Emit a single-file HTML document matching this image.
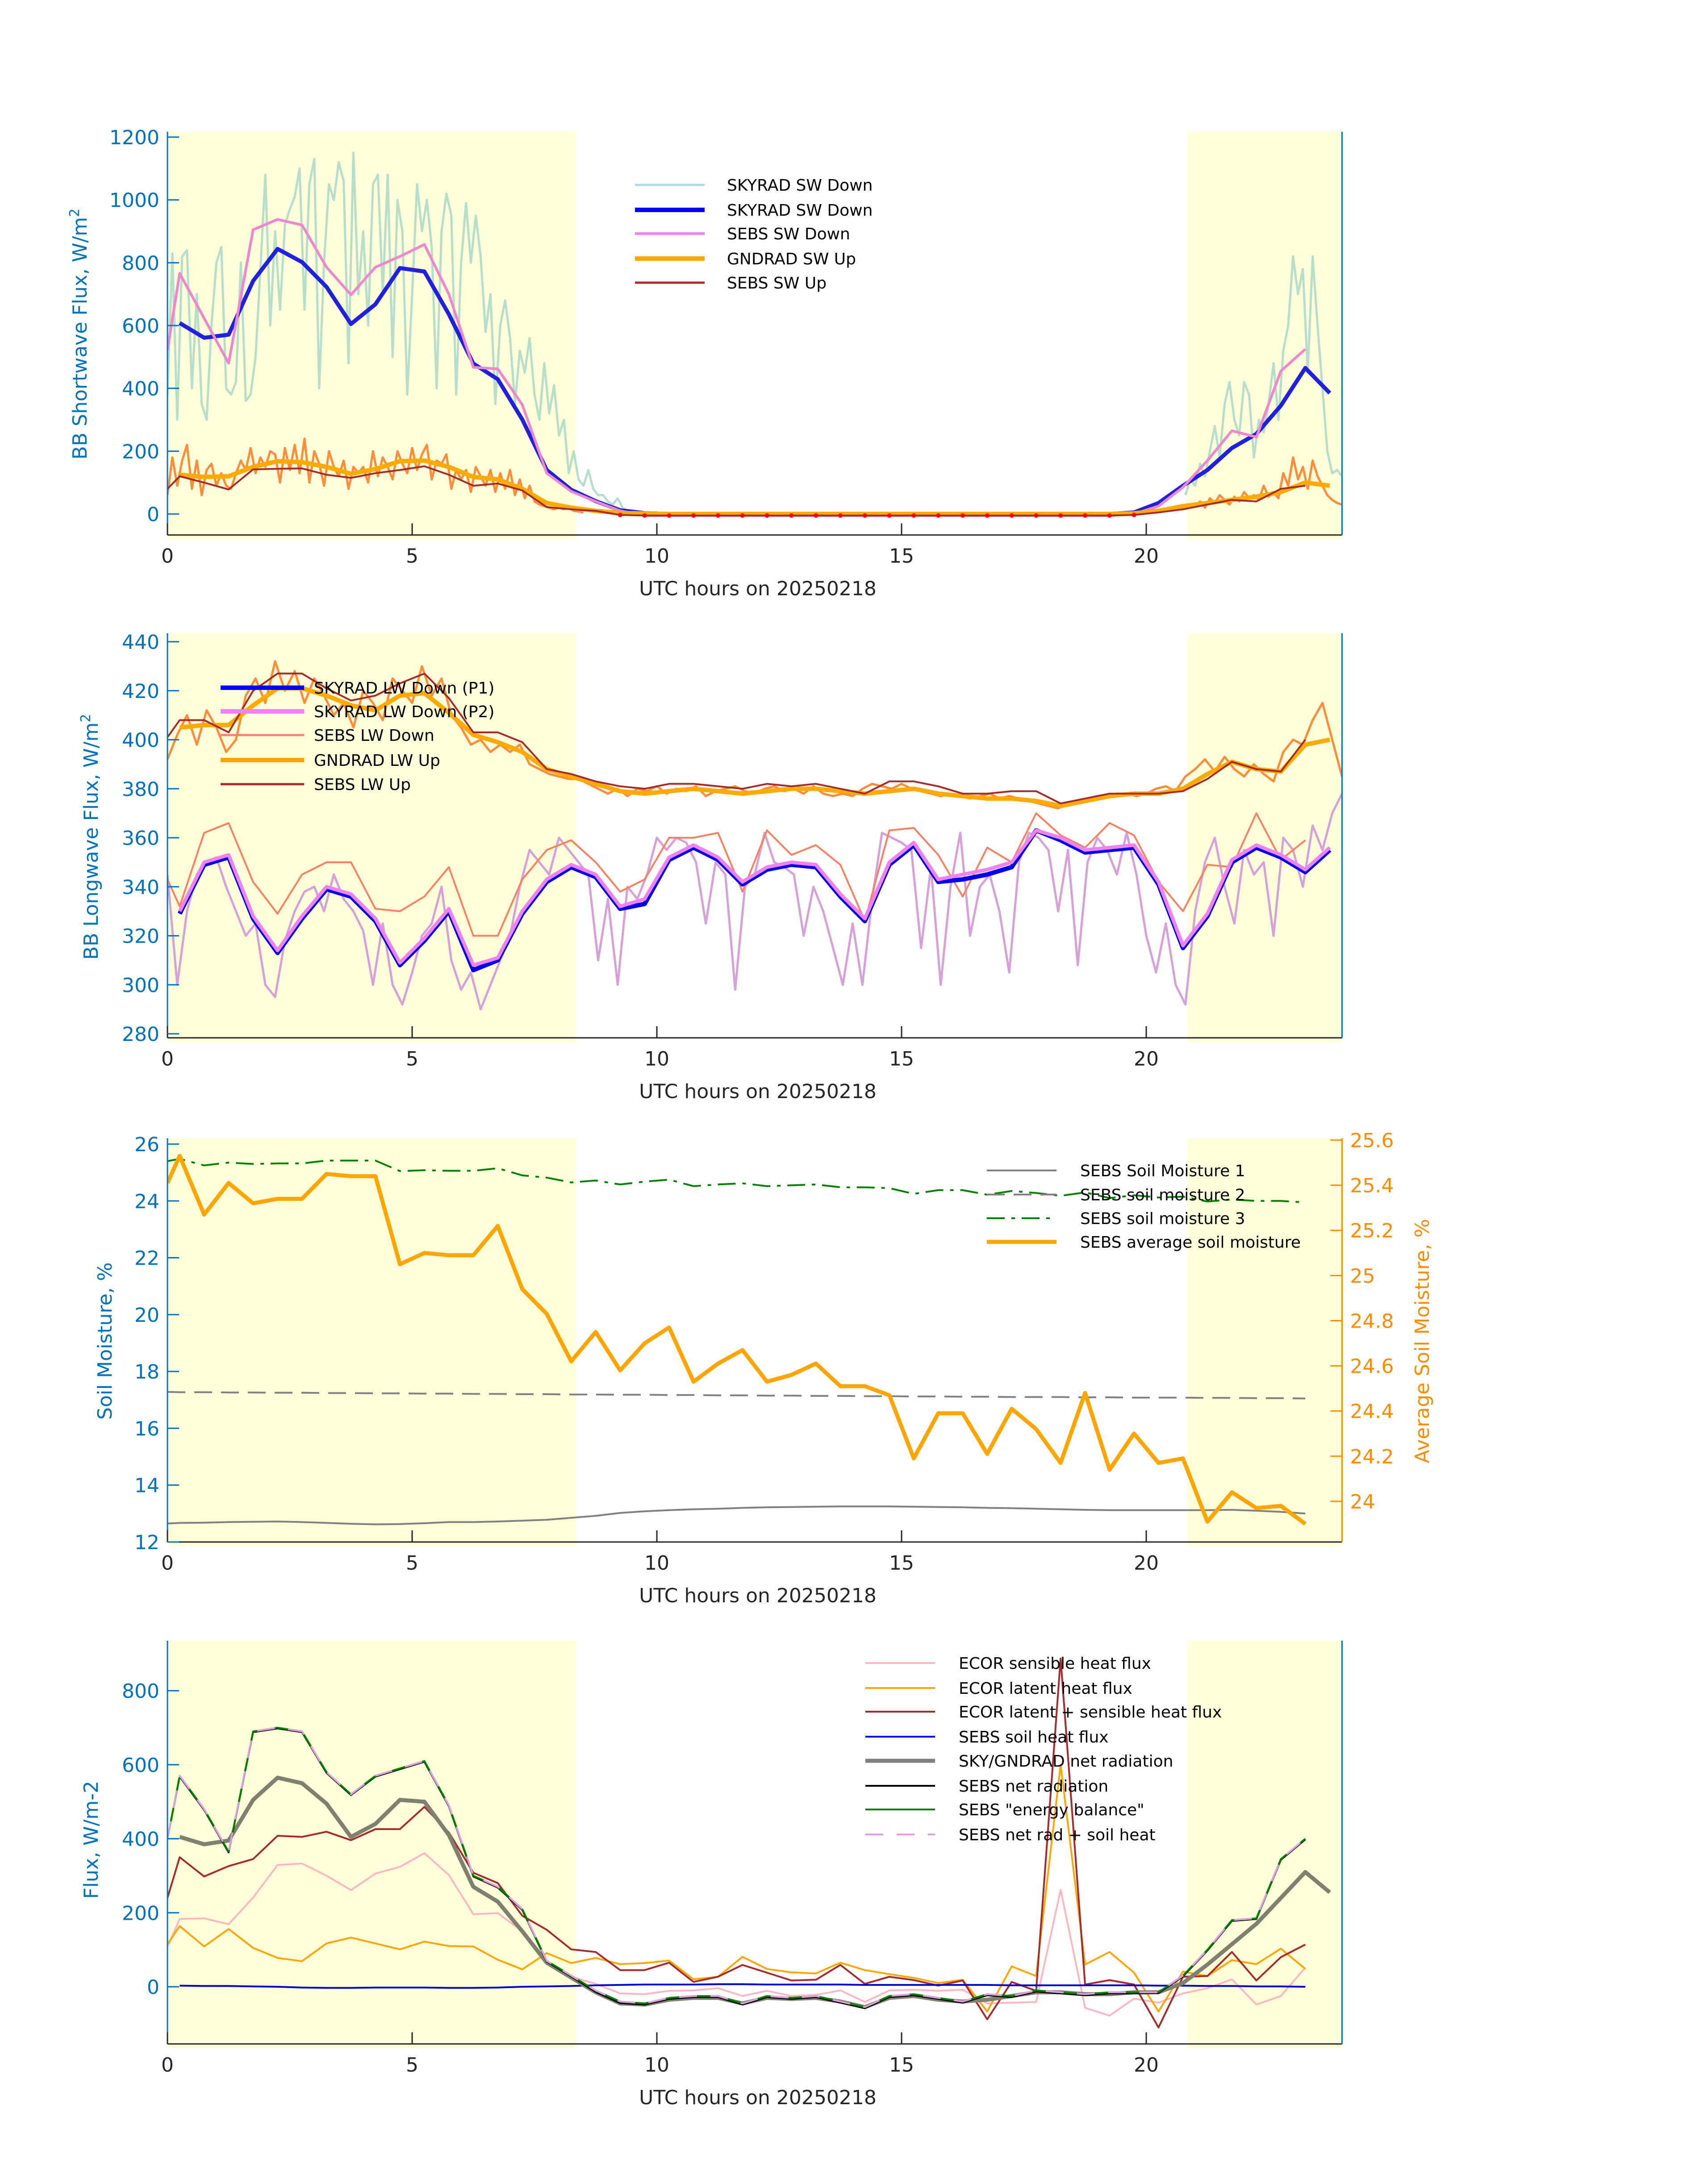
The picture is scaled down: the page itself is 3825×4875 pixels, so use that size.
<!DOCTYPE html>
<html><head><meta charset="utf-8"><title>SEBS / SKYRAD / ECOR 20250218</title>
<style>
html,body{margin:0;padding:0;background:#fff;}
svg{display:block;font-family:"DejaVu Sans","Liberation Sans",sans-serif;}
</style></head>
<body>
<svg id="fig" xmlns="http://www.w3.org/2000/svg" width="3825" height="4875" viewBox="0 0 3825 4875">
<rect width="3825" height="4875" fill="#ffffff"/>
</svg>
<script>
// ---------- DATA ----------
const swSkyradAvg = [608,561,571,742,844,802,723,605,668,783,772,636,479,429,301,140,77,41,12,3,0,0,0,0,0,0,0,0,0,0,0,0,0,0,0,0,0,0,0,5,35,90,140,210,255,345,465,385];
const swSebsDown0 = 522;
const swSebsDown = [766,623,480,905,938,920,786,698,786,820,858,700,467,462,348,130,72,40,10,-5,-5,-5,-5,-5,-5,-5,-5,-5,-5,-5,-5,-5,-5,-5,-5,-5,-5,-5,-5,0,25,85,170,265,245,455,525];
const swGndradUp = [125,118,120,150,168,165,150,128,143,168,170,150,118,110,80,35,20,10,3,2,0,0,0,0,0,0,0,0,0,0,0,0,0,0,0,0,0,0,0,2,10,25,35,45,55,70,100,90];
const swSebsUp0 = 80;
const swSebsUp = [120,100,78,142,144,145,125,115,130,140,152,125,90,97,75,22,15,10,-3,-5,-5,-5,-5,-5,-5,-5,-5,-5,-5,-5,-5,-5,-5,-5,-5,-5,-5,-5,-5,-3,5,15,30,45,40,80,90];
const swNoiseDay = [380,830,300,820,840,400,700,350,300,600,800,850,400,380,420,800,360,380,500,780,1080,600,900,650,920,970,1010,1100,650,1050,1130,400,800,1050,1000,1120,1060,480,1150,700,900,600,1050,1080,700,1080,500,1000,900,380,700,1050,900,1000,850,400,900,1020,950,380,800,990,800,950,820,580,700,350,600,680,560,350,520,450,560,380,300,480,320,410,250,300,130,200,110,90,140,80,60,60,40,30,50,20,10];
const swNoiseEve = [60,110,90,160,120,200,280,180,350,420,300,250,420,380,180,300,260,350,480,300,520,600,820,700,780,450,820,600,400,200,130,140,120];
const gndNoiseDay = [60,180,90,170,220,80,170,60,140,160,90,130,90,80,130,170,140,210,130,180,150,200,190,100,210,140,220,130,240,100,200,160,90,200,150,120,170,80,150,130,150,100,200,120,180,150,110,200,160,130,210,140,190,220,110,170,160,190,80,140,110,140,70,150,120,90,140,70,130,80,140,60,110,50,90,40,30,25,20,15,20,15,20,10,8,5];
const gndNoiseEve = [15,30,25,40,20,50,35,60,45,30,55,40,70,50,60,45,90,55,70,50,130,90,180,110,150,80,170,120,90,60,45,35,30];

const lwP1 = [329,349,352,327,313,327,339,336,326,308,318,330,306,310,329,342,348,344,331,333,351,356,351,341,347,349,348,336,326,349,357,342,343,345,348,363,359,354,355,356,341,315,328,350,356,352,346,355];
const lwP2 = [330,350,353,328,314,328,340,337,327,309,319,331,308,311,330,343,349,345,332,335,352,357,352,342,348,350,349,337,327,350,358,343,345,347,350,363,360,355,356,357,342,316,329,351,357,353,347,356];
const lwSebsDown0 = 343;
const lwSebsDown = [332,362,366,342,329,345,350,350,331,330,336,348,320,320,343,355,359,350,338,343,360,360,362,338,363,353,357,349,326,363,364,353,336,356,350,370,361,356,366,361,342,330,349,348,370,351,359];
const lwGndradUp = [405,406,406,414,421,421,418,414,412,418,419,411,402,399,395,388,385,382,379,378,379,380,379,378,379,380,380,379,378,379,380,378,377,376,376,375,373,375,377,378,378,380,386,391,388,387,398,400];
const lwSebsUp0 = 401;
const lwSebsUp = [408,408,403,420,427,427,421,416,418,423,427,417,403,403,399,388,386,383,381,380,382,382,381,380,382,381,382,380,378,383,383,381,378,378,379,379,374,376,378,378,378,379,384,391,388,387,400];
const lwNoiseDown = [345,300,330,345,350,352,340,330,320,325,300,295,318,330,338,340,330,345,335,330,322,300,325,300,292,305,320,325,340,310,298,305,290,300,310,320,340,355,350,345,360,355,350,345,310,335,300,340,335,345,360,355,360,358,350,325,350,345,298,340,345,362,350,348,345,320,340,330,315,300,325,300,335,362,360,358,355,315,348,300,340,362,320,340,345,330,305,350,362,360,355,330,355,308,350,360,355,345,362,345,320,305,325,300,292,330,350,360,340,325,355,345,350,320,360,355,340,365,355,370,378];
const lwNoiseUp = [392,402,410,398,412,405,395,400,418,425,415,432,420,428,415,425,418,410,415,405,420,415,408,425,420,415,430,418,425,410,405,398,400,395,398,395,398,390,388,386,385,384,384,382,380,378,380,377,380,379,381,378,380,379,381,377,379,380,381,379,378,380,381,379,380,378,381,378,377,378,377,380,382,381,380,382,380,379,378,377,378,377,376,377,378,376,377,376,375,374,373,372,374,375,376,377,377,378,378,377,378,380,381,379,385,388,392,387,393,388,385,390,386,383,395,400,398,408,415,400,385];

const smAvg = [25.41,25.53,25.27,25.41,25.32,25.34,25.34,25.45,25.44,25.44,25.05,25.10,25.09,25.09,25.22,24.94,24.83,24.62,24.75,24.58,24.70,24.77,24.53,24.61,24.67,24.53,24.56,24.61,24.51,24.51,24.47,24.19,24.39,24.39,24.21,24.41,24.32,24.17,24.48,24.14,24.30,24.17,24.19,23.91,24.04,23.97,23.98,23.90];
const sm3 = [25.40,25.48,25.25,25.35,25.30,25.32,25.32,25.42,25.42,25.42,25.05,25.08,25.06,25.06,25.15,24.90,24.82,24.65,24.72,24.58,24.68,24.75,24.52,24.58,24.62,24.52,24.55,24.58,24.48,24.48,24.45,24.25,24.38,24.38,24.22,24.35,24.28,24.18,24.30,24.10,24.20,24.12,24.15,23.98,24.05,24.00,24.00,23.95];
const sm2 = [17.28,17.27,17.27,17.26,17.26,17.25,17.25,17.24,17.24,17.23,17.23,17.22,17.22,17.21,17.21,17.20,17.20,17.19,17.19,17.18,17.18,17.17,17.17,17.16,17.16,17.15,17.15,17.14,17.14,17.13,17.13,17.12,17.12,17.11,17.11,17.10,17.10,17.10,17.09,17.09,17.08,17.08,17.08,17.07,17.07,17.06,17.06,17.05];
const sm1 = [12.65,12.67,12.68,12.70,12.71,12.72,12.70,12.67,12.64,12.62,12.63,12.66,12.70,12.70,12.72,12.75,12.78,12.85,12.92,13.02,13.08,13.12,13.15,13.17,13.20,13.22,13.23,13.24,13.25,13.25,13.25,13.24,13.23,13.22,13.20,13.19,13.17,13.15,13.13,13.12,13.12,13.12,13.12,13.12,13.13,13.10,13.06,13.00];

const ecorSens = [108,183,185,169,241,329,333,300,261,306,324,361,302,196,199,150,66,27,8,-18,-20,-11,-10,-4,-25,-11,-25,-22,-10,-41,-10,-8,-11,-8,-45,-43,-41,262,-57,-78,-32,-43,-18,-4,20,-48,-25,52];
const ecorLat = [115,164,109,156,105,78,69,117,133,117,101,122,110,109,73,47,91,64,78,61,64,71,20,27,81,48,39,36,65,45,34,24,10,19,-67,55,29,600,60,94,38,-67,41,29,72,61,103,48];
const ecorSum = [240,350,298,326,345,408,405,419,396,426,426,486,417,308,280,192,154,101,94,45,45,65,13,27,59,38,17,19,59,8,27,18,3,17,-88,13,-11,887,6,18,6,-110,27,29,94,17,80,114];
const energyBal = [400,570,480,365,690,700,690,580,520,570,590,610,490,300,270,210,70,30,-10,-40,-45,-30,-25,-25,-45,-25,-30,-25,-40,-55,-25,-20,-30,-40,-20,-25,-10,-15,-20,-15,-15,-15,30,100,180,185,345,400];
const sebsNet = [400,568,478,363,688,698,688,578,518,568,588,608,488,298,268,208,68,28,-14,-44,-48,-33,-28,-28,-48,-28,-33,-28,-43,-58,-28,-23,-33,-43,-23,-28,-13,-18,-23,-18,-18,-17,28,98,178,183,343,398];
const soilHeat = [3,2,2,1,0,-2,-3,-3,-2,-2,-2,-3,-3,-2,0,1,2,4,5,6,6,6,7,7,6,6,6,6,5,5,5,5,5,5,4,4,4,4,4,4,3,3,2,2,1,1,0];
const netRadSky = [405,385,395,505,565,550,495,405,440,505,500,410,270,230,150,65,25,-15,-45,-48,-35,-30,-30,-45,-30,-33,-30,-40,-55,-30,-25,-35,-40,-35,-25,-15,-15,-20,-20,-15,-15,10,60,115,170,240,310,255];

const xTicks = [0,5,10,15,20];
const p1Ticks = [0,200,400,600,800,1000,1200];
const p2Ticks = [280,300,320,340,360,380,400,420,440];
const p3Ticks = [12,14,16,18,20,22,24,26];
const p3RTicks = [24,24.2,24.4,24.6,24.8,25,25.2,25.4,25.6];
const p3RTickLabels = ['24','24.2','24.4','24.6','24.8','25','25.2','25.4','25.6'];
const p4Ticks = [0,200,400,600,800];

// ---------- DRAWING ----------
const NS='http://www.w3.org/2000/svg';
const svg=document.getElementById('fig');
const L=375, HOUR=109.6, R=L+24*HOUR;
function X(t){return L + t*HOUR;}
function mk(tag,attrs,parent){const e=document.createElementNS(NS,tag);for(const k in attrs)e.setAttribute(k,attrs[k]);(parent||svg).appendChild(e);return e;}
function halfTimes(n,withZero){const a=[];if(withZero)a.push(0);for(let k=0;a.length<n;k++)a.push(0.25+0.5*k);return a;}
function stepTimes(start,n){const a=[];for(let i=0;i<n;i++)a.push(start+0.1*i);return a;}
function stepTimes2(n){const a=[];for(let i=0;i<n;i++)a.push(0.2*i);return a;}
function pts(ts,vs,Y){return vs.map((v,i)=>X(ts[i]).toFixed(1)+','+Y(v).toFixed(1)).join(' ');}

const D1=-5, D2=-10, D3=-13, D4=-20;
const panels=[
 {id:'p1',top:300+D1,bot:1203+D1},
 {id:'p2',top:1428+D2,bot:2334+D2},
 {id:'p3',top:2562+D3,bot:3466+D3},
 {id:'p4',top:3694+D4,bot:4597+D4}
];
const Y1=v=>1156+D1 - v*0.70333;
const Y2=v=>1447+D2 + (440-v)*5.4875;
const Y3=v=>2575+D3 + (26-v)*63.64;
const Y3R=v=>2566+D3 + (25.6-v)*505.6;
const Y4=v=>4469+D4 - v*0.82875;

const defs=mk('defs',{});
panels.forEach(p=>{
  const cp=mk('clipPath',{id:'clip-'+p.id},defs);
  mk('rect',{x:L,y:p.top,width:R-L,height:p.bot-p.top},cp);
});

function shading(p){
  const g=mk('g',{});
  
  
  mk('rect',{x:X(0),y:p.top,width:X(8.35)-X(0),height:p.bot-p.top+10,fill:'#ffffd9'},g);
  mk('rect',{x:X(20.85),y:p.top,width:R-X(20.85),height:p.bot-p.top+10,fill:'#ffffd9'},g);
}
function line(p,ts,vs,Y,color,w,name,extra){
  const e=mk('polyline',Object.assign({points:pts(ts,vs,Y),fill:'none',stroke:color,'stroke-width':w,'stroke-linejoin':'round','clip-path':'url(#clip-'+p.id+')'},extra||{}));
  
  
  return e;
}
function axes(p,yt,Y,ylabels,name){
  const g=mk('g',{});
  
  
  mk('line',{x1:L,y1:p.bot,x2:R,y2:p.bot,stroke:'#262626','stroke-width':3},g);
  mk('line',{x1:L,y1:p.top,x2:L,y2:p.bot,stroke:'#0072bd','stroke-width':3},g);
  xTicks.forEach(t=>{
    mk('line',{x1:X(t),y1:p.bot,x2:X(t),y2:p.bot-26,stroke:'#262626','stroke-width':3},g);
    const tx=mk('text',{x:X(t),y:p.bot+62,'font-size':44,fill:'#262626','text-anchor':'middle'},g);
    tx.textContent=String(t);
    
    
  });
  yt.forEach((v,i)=>{
    mk('line',{x1:L,y1:Y(v),x2:L+26,y2:Y(v),stroke:'#0072bd','stroke-width':3},g);
    const tx=mk('text',{x:L-18,y:Y(v)+16,'font-size':44,fill:'#0072bd','text-anchor':'end'},g);
    tx.textContent=ylabels?ylabels[i]:String(v);
    
    
  });
  const xl=mk('text',{x:1697,y:p.bot+135,'font-size':44,fill:'#262626','text-anchor':'middle'},g);
  xl.textContent='UTC hours on 20250218';
  
  
}
function ylabel(x,y,text,color,sup,name){
  const t=mk('text',{x:x,y:y,'font-size':44,fill:color,'text-anchor':'middle',transform:'rotate(-90 '+x+' '+y+')'});
  
  
  t.textContent=text;
  if(sup){const s=mk('tspan',{'baseline-shift':'super','font-size':30},t);s.textContent=sup;}
}
function legend(x0,x1,tx,rows,entries,name){
  const g=mk('g',{});
  
  
  entries.forEach((e,i)=>{
    const y=rows[i];
    const ln=mk('line',{x1:x0,y1:y,x2:x1,y2:y,stroke:e.c,'stroke-width':e.w},g);
    if(e.dash)ln.setAttribute('stroke-dasharray',e.dash);
    const t=mk('text',{x:tx,y:y+13,'font-size':36,fill:'#000'},g);
    t.textContent=e.t;
    
    
  });
}

// ===== Panel 1 =====
let p=panels[0];
shading(p);
line(p,stepTimes(0,swNoiseDay.length),swNoiseDay,Y1,'#a8d8c8',5,'skyrad-sw-down-1min',{opacity:0.85});
line(p,stepTimes(20.8,swNoiseEve.length),swNoiseEve,Y1,'#a8d8c8',5,'skyrad-sw-down-1min-evening',{opacity:0.85});
line(p,stepTimes(0,gndNoiseDay.length),gndNoiseDay,Y1,'#ff8c3a',5,'gndrad-sw-up-1min');
line(p,stepTimes(20.8,gndNoiseEve.length),gndNoiseEve,Y1,'#ff8c3a',5,'gndrad-sw-up-1min-evening');
line(p,halfTimes(48,false),swSkyradAvg,Y1,'#2020dd',9,'skyrad-sw-down-line');
line(p,halfTimes(48,true),[swSebsDown0].concat(swSebsDown),Y1,'#ee88cc',6,'sebs-sw-down-line');
line(p,halfTimes(48,false),swGndradUp,Y1,'#ffaa00',10,'gndrad-sw-up-line');
line(p,halfTimes(48,true),[swSebsUp0].concat(swSebsUp),Y1,'#a52a2a',4,'sebs-sw-up-line');
{const ts=halfTimes(47,false);
 swSebsUp.forEach((v,i)=>{ if(ts[i]>9 && ts[i]<20){
   const c=mk('circle',{cx:X(ts[i]),cy:Y1(v),r:5,fill:'#ff0000'});
   
   
 }});}
axes(p,p1Ticks,Y1,null,'shortwave');
ylabel(194,753+D1,'BB Shortwave Flux, W/m','#0072bd','2','shortwave-y-axis-title');
legend(1422,1578,1628,[419+D1,475+D1,528+D1,584+D1,638+D1],[
 {t:'SKYRAD SW Down',c:'#add8e6',w:5},{t:'SKYRAD SW Down',c:'#0000ff',w:10},{t:'SEBS SW Down',c:'#ee82ee',w:6},
 {t:'GNDRAD SW Up',c:'#ffa500',w:10},{t:'SEBS SW Up',c:'#a52a2a',w:5}],'shortwave-legend');

// ===== Panel 2 =====
p=panels[1];
shading(p);
line(p,stepTimes2(lwNoiseDown.length),lwNoiseDown,Y2,'#d8a0d8',5,'skyrad-lw-down-1min');
line(p,stepTimes2(lwNoiseUp.length),lwNoiseUp,Y2,'#ff8c3a',5,'gndrad-lw-up-1min');
line(p,halfTimes(48,true),[lwSebsDown0].concat(lwSebsDown),Y2,'#fa8060',4,'sebs-lw-down-line');
line(p,halfTimes(48,false),lwP1,Y2,'#0000ee',10,'skyrad-lw-down-p1-line');
line(p,halfTimes(48,false),lwP2,Y2,'#ee82ee',8,'skyrad-lw-down-p2-line');
line(p,halfTimes(48,false),lwGndradUp,Y2,'#ffaa00',10,'gndrad-lw-up-line');
line(p,halfTimes(48,true),[lwSebsUp0].concat(lwSebsUp),Y2,'#a52a2a',4,'sebs-lw-up-line');
axes(p,p2Ticks,Y2,null,'longwave');
ylabel(219,1884+D2,'BB Longwave Flux, W/m','#0072bd','2','longwave-y-axis-title');
legend(494,681,703,[1550+D2,1603+D2,1656+D2,1712+D2,1766+D2],[
 {t:'SKYRAD LW Down (P1)',c:'#0000ff',w:10},{t:'SKYRAD LW Down (P2)',c:'#ee82ee',w:10},{t:'SEBS LW Down',c:'#fa8072',w:5},
 {t:'GNDRAD LW Up',c:'#ffa500',w:10},{t:'SEBS LW Up',c:'#a52a2a',w:5}],'longwave-legend');

// ===== Panel 3 =====
p=panels[2];
shading(p);
line(p,halfTimes(48,true),sm1,Y3,'#808080',4,'sebs-soil-moisture-1-line');
line(p,halfTimes(48,true),sm2,Y3,'#808080',4,'sebs-soil-moisture-2-line',{'stroke-dasharray':'40 20'});
line(p,halfTimes(48,true),sm3,Y3,'#008000',4,'sebs-soil-moisture-3-line',{'stroke-dasharray':'40 15 8 15'});
line(p,halfTimes(48,true),smAvg,Y3R,'#ffa500',9,'sebs-average-soil-moisture-line');
axes(p,p3Ticks,Y3,null,'soil');
{const g=mk('g',{});
 
 
 mk('line',{x1:R,y1:p.top,x2:R,y2:p.bot,stroke:'#ff8c00','stroke-width':3},g);
 p3RTicks.forEach((v,i)=>{
   mk('line',{x1:R,y1:Y3R(v),x2:R-26,y2:Y3R(v),stroke:'#ff8c00','stroke-width':3},g);
   const t=mk('text',{x:R+18,y:Y3R(v)+16,'font-size':44,fill:'#ff8c00'},g);
   t.textContent=p3RTickLabels[i];
   
   
 });}
ylabel(250,3016+D3,'Soil Moisture, %','#0072bd',null,'soil-y-axis-title');
ylabel(3200,3016+D3,'Average Soil Moisture, %','#ff8c00',null,'soil-right-y-axis-title');
legend(2210,2366,2419,[2634+D3,2688+D3,2741+D3,2794+D3],[
 {t:'SEBS Soil Moisture 1',c:'#808080',w:4},{t:'SEBS soil moisture 2',c:'#808080',w:4,dash:'40 20'},
 {t:'SEBS soil moisture 3',c:'#008000',w:4,dash:'40 15 8 15'},{t:'SEBS average soil moisture',c:'#ffa500',w:9}],'soil-legend');

// ===== Panel 4 =====
p=panels[3];
shading(p);
line(p,halfTimes(48,true),ecorSens,Y4,'#ffb6c1',4,'ecor-sensible-line');
line(p,halfTimes(48,true),ecorLat,Y4,'#ffa500',4,'ecor-latent-line');
line(p,halfTimes(48,true),ecorSum,Y4,'#a52a2a',4,'ecor-latent-sensible-line');
line(p,halfTimes(47,false),soilHeat,Y4,'#0000cd',4,'sebs-soil-heat-line');
line(p,halfTimes(48,false),netRadSky,Y4,'#808070',9,'sky-gndrad-net-radiation-line');
line(p,halfTimes(48,true),sebsNet,Y4,'#000000',4,'sebs-net-radiation-line');
line(p,halfTimes(48,true),energyBal,Y4,'#008000',4,'sebs-energy-balance-line');
line(p,halfTimes(48,true),energyBal,Y4,'#dda0dd',4,'sebs-net-rad-soil-heat-line',{'stroke-dasharray':'40 30'});
axes(p,p4Ticks,Y4,null,'flux');
ylabel(219,4140+D4,'Flux, W/m-2','#0072bd',null,'flux-y-axis-title');
legend(1938,2094,2147,[3744+D4,3800+D4,3853+D4,3909+D4,3963+D4,4019+D4,4072+D4,4128+D4],[
 {t:'ECOR sensible heat flux',c:'#ffb6c1',w:4},{t:'ECOR latent heat flux',c:'#ffa500',w:4},
 {t:'ECOR latent + sensible heat flux',c:'#a52a2a',w:4},{t:'SEBS soil heat flux',c:'#0000ff',w:4},
 {t:'SKY/GNDRAD net radiation',c:'#808080',w:9},{t:'SEBS net radiation',c:'#000000',w:4},
 {t:'SEBS "energy balance"',c:'#008000',w:4},{t:'SEBS net rad + soil heat',c:'#dda0dd',w:4,dash:'40 30'}],'flux-legend');

[panels[0],panels[1],panels[3]].forEach(pp=>{
  const e=mk('line',{x1:R,y1:pp.top,x2:R,y2:pp.bot,stroke:'#0072bd','stroke-width':3});
  
  
});
</script>
</body></html>
